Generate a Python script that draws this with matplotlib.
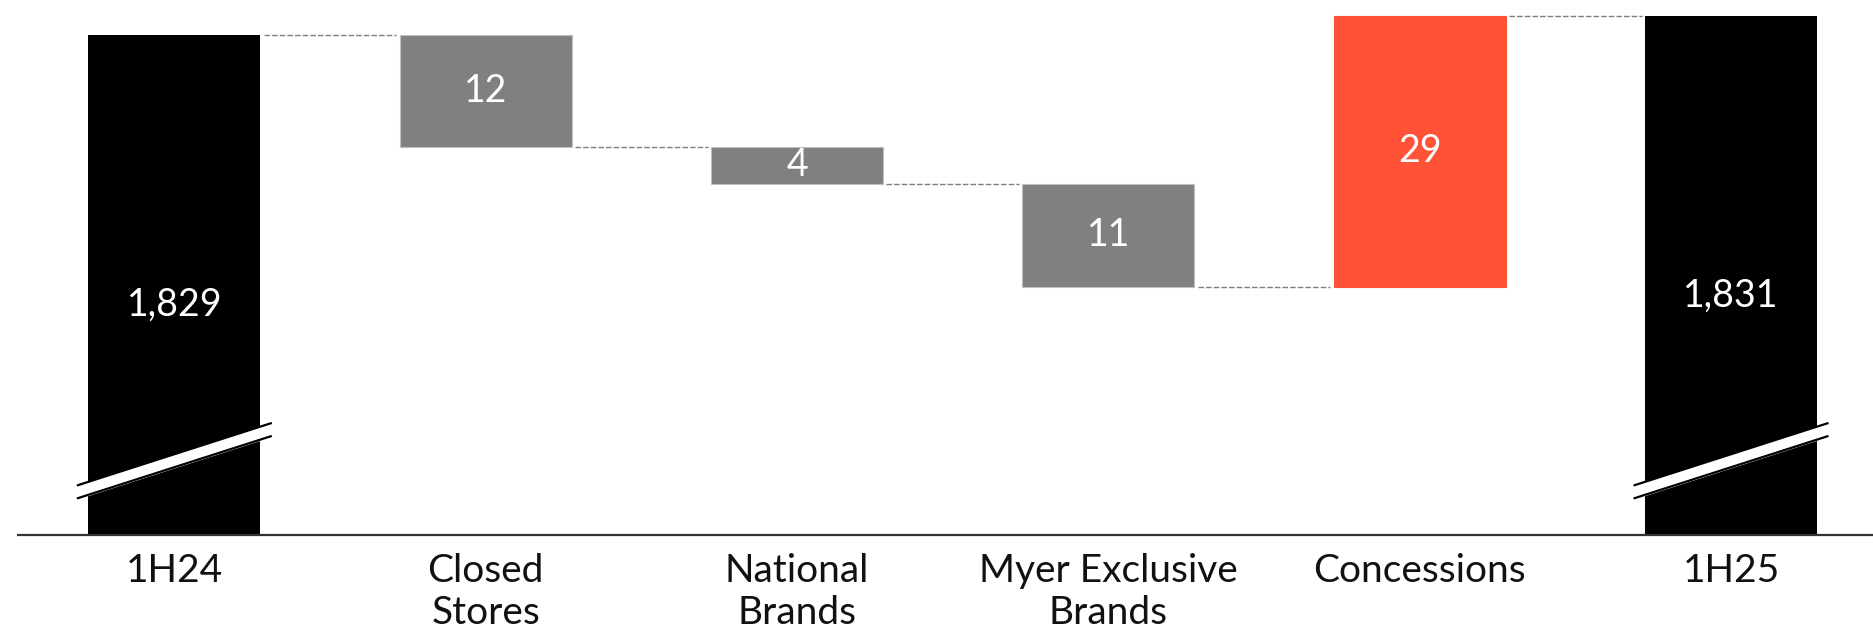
import numpy as np
import matplotlib
matplotlib.use('Agg')
import matplotlib.pyplot as plt
from matplotlib.transforms import blended_transform_factory

# --- DATA ---
categories = ['1H24', 'Closed\nStores', 'National\nBrands', 'Myer Exclusive\nBrands', 'Concessions', '1H25']
opening = 1829
changes = [-12, -4, -11, 29]
closing = 1831

# --- STYLE ---
TOTAL_COLOR = '#000000'
DECREASE_COLOR = '#808080'
INCREASE_COLOR = '#FF5236'
CONNECTOR_COLOR = '#7f7f7f'
FONT = ['Lato', 'DejaVu Sans']
Y_BOTTOM, Y_TOP = 1775.4, 1832.7
BAR_W = 0.553

plt.rcParams['font.family'] = FONT

fig = plt.figure(figsize=(18.73, 6.3), dpi=100)
ax = fig.add_axes([0, 95 / 630, 1, 535 / 630])
ax.set_xlim(-0.560, 5.456)
ax.set_ylim(Y_BOTTOM, Y_TOP)
ax.axis('off')

x = np.arange(len(categories))

# running totals for the floating bars
levels = [opening]
for c in changes:
    levels.append(levels[-1] + c)

# opening / closing totals, cut off at the bottom of the axis
for xi, val in [(x[0], opening), (x[-1], closing)]:
    ax.bar(xi, val - Y_BOTTOM, bottom=Y_BOTTOM, width=BAR_W, color=TOTAL_COLOR, zorder=2)
    ax.text(xi, Y_BOTTOM + (val - Y_BOTTOM) * 0.46, f'{val:,}', color='white',
            ha='center', va='center', fontsize=27, zorder=4)

    # axis break marker across the bar
    bx = np.array([xi - 0.313, xi + 0.313])
    upper = np.array([1780.7, 1787.4])
    lower = upper - 1.39
    ax.fill_between(bx, lower, upper, color='white', zorder=3, clip_on=False)
    ax.plot(bx, upper, color='black', lw=1.6, zorder=3, solid_capstyle='butt', clip_on=False)
    ax.plot(bx, lower, color='black', lw=1.6, zorder=3, solid_capstyle='butt', clip_on=False)

# floating change bars
for i, c in enumerate(changes):
    lo = min(levels[i], levels[i + 1])
    color = INCREASE_COLOR if c > 0 else DECREASE_COLOR
    edge = '#c0c0c0' if c < 0 else color
    ax.bar(x[i + 1], abs(c), bottom=lo, width=BAR_W, color=color,
           edgecolor=edge, linewidth=0.8, zorder=2)
    ax.text(x[i + 1], lo + abs(c) / 2, f'{abs(c)}', color='white',
            ha='center', va='center', fontsize=27, zorder=4)

# dashed connectors between neighbouring bars
levels.append(closing)
for i in range(len(categories) - 1):
    ax.plot([x[i] + BAR_W / 2 + 0.01, x[i + 1] - BAR_W / 2 - 0.01], [levels[i], levels[i]],
            color=CONNECTOR_COLOR, lw=1.0, ls=(0, (4, 1.5)), zorder=1)

# baseline
ax.plot([-0.506, 5.456], [Y_BOTTOM, Y_BOTTOM], color='#333333', lw=1.6,
        clip_on=False, zorder=5, solid_capstyle='butt')

# category labels under the baseline
trans = blended_transform_factory(ax.transData, fig.transFigure)
for xi, lab in zip(x, categories):
    ax.text(xi, 1 - 553 / 630, lab, transform=trans, ha='center', va='top',
            fontsize=28, color='#111111', linespacing=1.2)

fig.savefig('out.png', dpi=100)
